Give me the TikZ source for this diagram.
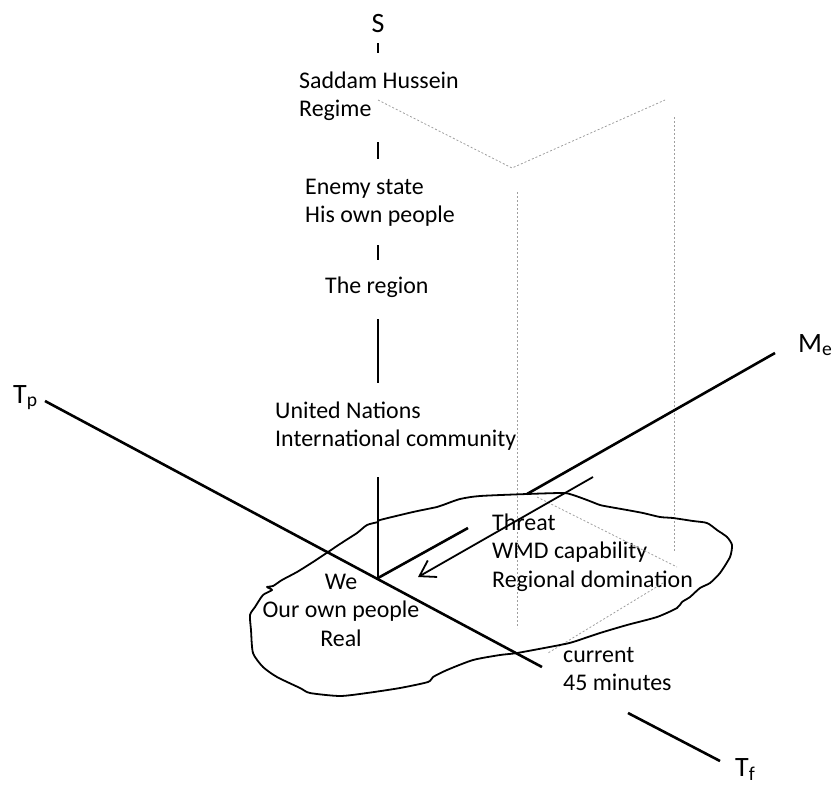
\documentclass[tikz,border=0pt]{standalone}
\usepackage{fontspec}
\setmainfont{Carlito}
\usetikzlibrary{positioning,arrows.meta}

\begin{document}
\begin{tikzpicture}[x=1pt,y=-1pt]
    \tikzstyle{every node}=[inner sep=0,font=\fontsize{23.9}{28.5}\selectfont]
    \tikzstyle{note}=[align=left,anchor=base west]
    \tikzstyle{axislabel}=[font=\fontsize{28}{30}\selectfont,anchor=base west]
    \tikzstyle{axis}=[line width=2.6pt]
    \tikzstyle{hidden}=[gray!75,line width=0.8pt,dash pattern=on 2pt off 2pt]
    \tikzstyle{blob}=[line width=1.8pt,line join=round]
    {
        \useasboundingbox (0,0) rectangle (836,785);

        % axis labels
        \node[axislabel,anchor=base] (S) at (378,32) {S};
        \node[axislabel] (Tp) at (13,403) {T\textsubscript{p}};
        \node[axislabel] (Me) at (798,352) {M\textsubscript{e}};
        \node[axislabel] (Tf) at (735,776) {T\textsubscript{f}};

        % texts (anchored at the baseline of the last line)
        \node[note] (saddam) at (299,116.5) {Saddam Hussein\\Regime};
        \node[note] (enemy) at (305,222.5) {Enemy state\\His own people};
        \node[note] (region) at (325,293) {The region};
        \node[note] (un) at (275,446.5) {United Nations\\International community};
        \node[note,align=center,anchor=base] (we) at (341,646) {We\\Our own people\\Real};
        \node[note] (threat) at (492,587) {Threat\\WMD capability\\Regional domination};
        \node[note] (current) at (563,690.5) {current\\45 minutes};

        % points on the axes
        \coordinate (O) at (378,578);
        \coordinate (tp0) at (45,401);
        \coordinate (tp1) at (542,667);
        \coordinate (tf0) at (628,713);
        \coordinate (tf1) at (720,761);
        \coordinate (me0) at (468,528);
        \coordinate (me1) at (527,494);
        \coordinate (me2) at (775,353);
        \coordinate (a0) at (593,477);
        \coordinate (a1) at (418,577);

        % dotted box
        \draw[hidden] (378,100) -- (512,168) -- (665,100);
        \draw[hidden] (517,192) -- (517,628);
        \draw[hidden] (674,117) -- (674,552);
        \draw[hidden] (537,497) -- (677,567);
        \draw[hidden] (663,583) -- (548,653);

        % the blob
        \draw[blob] plot[smooth cycle,tension=0.4] coordinates {
            (378,522) (367,525) (357,533) (343,542) (328,552) (313,562)
            (297,572) (282,580) (273,586) (267,587) (272,590) (263,595)
            (255,607) (250,615) (251,630) (253,653) (263,667) (277,677)
            (300,688) (310,693) (340,696) (367,693) (400,688) (428,682)
            (433,677) (447,670) (473,660) (500,655) (517,653) (560,645)
            (573,642) (600,633) (627,625) (657,617) (677,608) (682,602)
            (690,597) (700,588) (710,583) (720,573) (730,557) (732,545)
            (727,537) (717,530) (707,523) (693,521) (673,518) (660,517)
            (643,513) (627,510) (610,507) (600,505) (587,500) (573,495)
            (563,493) (527,494) (480,496) (460,499) (443,505) (437,507)
            (413,512) (380,520)};

        % axes
        \foreach \a/\b in {43/53,142/159,245/260,319/383,477/578}
            \draw[axis] (378,\a) -- (378,\b);
        \draw[axis] (tp0) -- (tp1);
        \draw[axis] (tf0) -- (tf1);
        \draw[axis] (O) -- (me0);
        \draw[axis] (me1) -- (me2);

        \path[->,>={Straight Barb[length=15pt,width=19pt]},line width=1.8pt]
            (a0) edge (a1);
    }
\end{tikzpicture}
\end{document}
